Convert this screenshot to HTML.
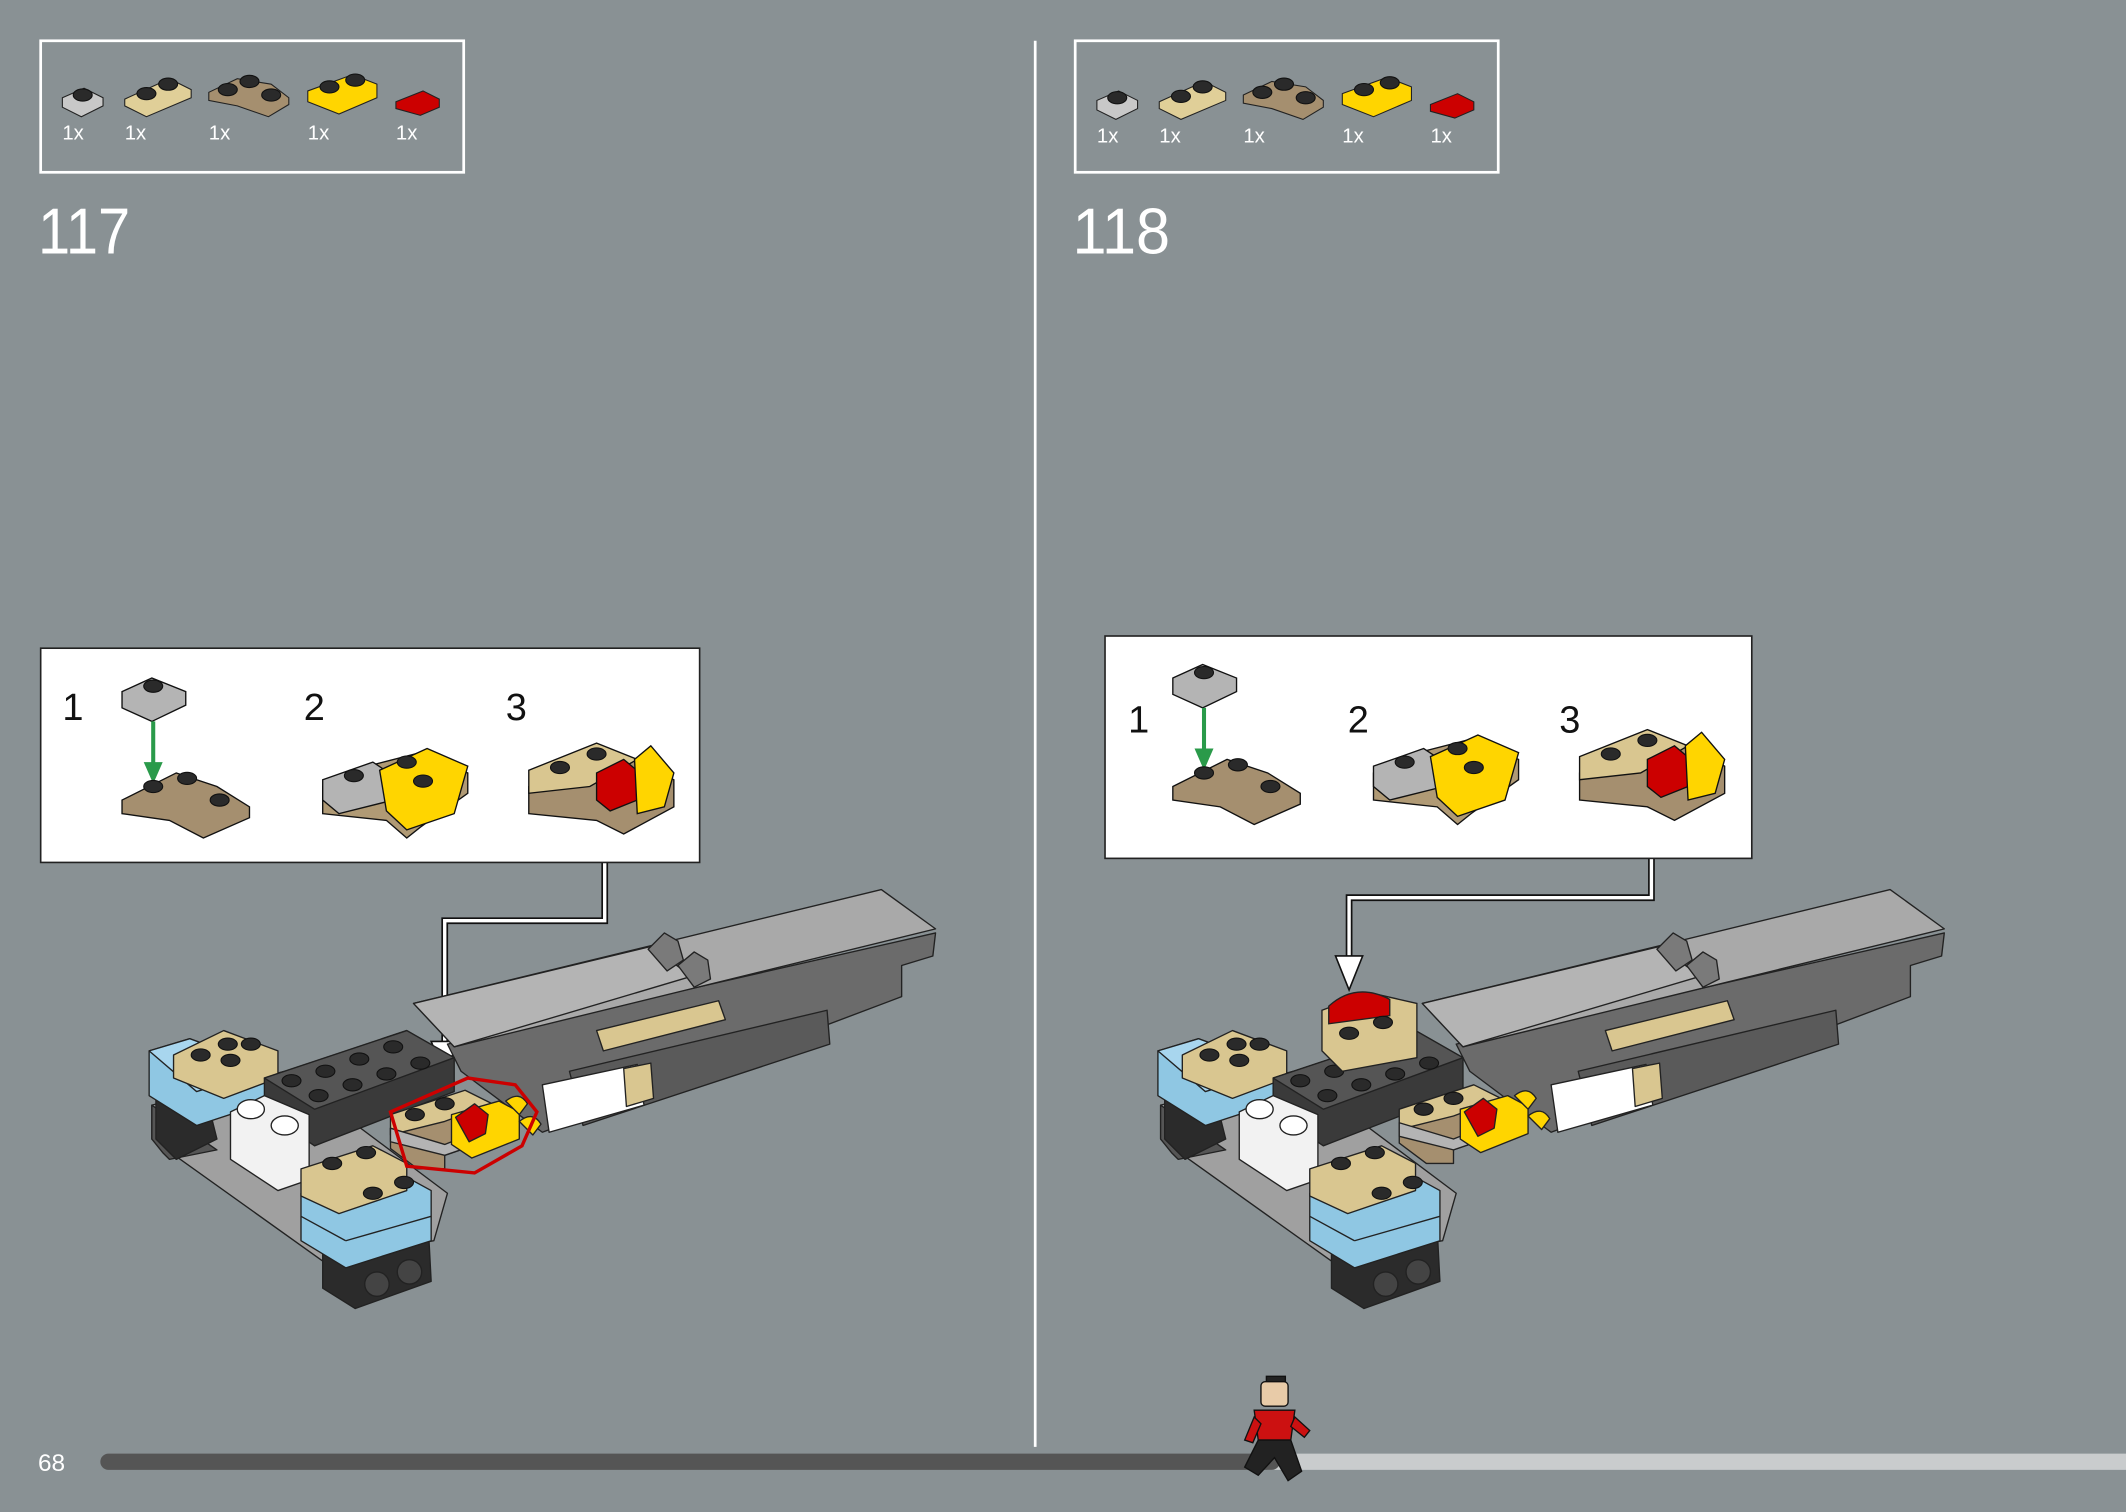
<!DOCTYPE html>
<html><head><meta charset="utf-8"><style>
html,body{margin:0;padding:0;background:#899194;}
svg{display:block}
text{font-family:"Liberation Sans",sans-serif;}
</style></head><body>
<svg width="2126" height="1512" viewBox="0 0 1568 1115" xmlns="http://www.w3.org/2000/svg">
<defs>
<g id="stud"><ellipse cx="0" cy="0" rx="7" ry="4.5" fill="#2a2a2a" stroke="#111" stroke-width="0.8"/></g>
<g id="model" stroke="#222" stroke-width="1" stroke-linejoin="round">
  <polygon points="330,770 690,688 688,705 665,712 665,735 400,835 340,790" fill="#6b6b6b"/>
  <polygon points="420,790 610,745 612,770 430,830" fill="#5a5a5a"/>
  <polygon points="400,800 470,785 475,815 405,835" fill="#ffffff"/>
  <polygon points="460,788 480,784 482,810 462,816" fill="#d9c690"/>
  <polygon points="305,740 650,656 690,685 335,772" fill="#a9a9a9"/>
  <polygon points="305,740 480,698 510,720 335,772" fill="#b4b4b4"/>
  <polygon points="440,760 530,738 535,752 445,775" fill="#d9c690"/>
  <polygon points="478,700 490,688 500,694 504,708 492,716" fill="#7a7a7a"/>
  <polygon points="500,712 512,702 522,708 524,722 512,728" fill="#7a7a7a"/>
  <polygon points="112,815 210,790 330,880 320,915 238,930 112,840" fill="#a0a0a0"/>
  <polygon points="112,815 112,840 120,850 125,855 160,848" fill="#555"/>
  <polygon points="115,810 150,800 160,840 130,855 115,840" fill="#2b2b2b"/>
  <polygon points="110,775 140,766 200,790 200,812 145,830 110,808" fill="#8fc7e3"/>
  <polygon points="110,775 140,766 200,788 145,805" fill="#a8d6ee"/>
  <polygon points="128,778 165,760 205,775 205,795 165,810 128,795" fill="#d9c690"/>
  <use href="#stud" x="148" y="778"/><use href="#stud" x="168" y="770"/><use href="#stud" x="185" y="770"/><use href="#stud" x="170" y="782"/>
  <polygon points="195,795 300,760 335,780 335,805 232,845 195,820" fill="#3a3a3a"/>
  <polygon points="195,795 300,760 335,780 232,818" fill="#555"/>
  <use href="#stud" x="215" y="797"/><use href="#stud" x="240" y="790"/><use href="#stud" x="265" y="781"/><use href="#stud" x="290" y="772"/>
  <use href="#stud" x="235" y="808"/><use href="#stud" x="260" y="800"/><use href="#stud" x="285" y="792"/><use href="#stud" x="310" y="784"/>
  <polygon points="170,820 195,808 228,822 228,870 205,878 170,855" fill="#f2f2f2"/>
  <ellipse cx="185" cy="818" rx="10" ry="7" fill="#fff"/><ellipse cx="210" cy="830" rx="10" ry="7" fill="#fff"/>
  <polygon points="238,910 315,888 318,945 262,965 238,950" fill="#2b2b2b"/>
  <circle cx="278" cy="947" r="9" fill="#444"/><circle cx="302" cy="938" r="9" fill="#444"/>
  <polygon points="222,880 285,860 318,878 318,915 255,935 222,915" fill="#8fc7e3"/>
  <line x1="222" y1="897" x2="255" y2="915" /><line x1="255" y1="915" x2="318" y2="897"/>
  <polygon points="222,862 275,845 300,858 300,878 250,895 222,882" fill="#d9c690"/>
  <use href="#stud" x="245" y="858"/><use href="#stud" x="270" y="850"/>
  <use href="#stud" x="275" y="880"/><use href="#stud" x="298" y="872"/>
</g>
<g id="sub1" stroke="#222" stroke-width="1" stroke-linejoin="round">
  <polygon points="0,40 55,22 75,32 75,48 40,60 40,70 20,70 0,55" fill="#a58f6f"/>
  <polygon points="0,30 55,12 75,22 40,35 0,45" fill="#d9c690"/>
  <polygon points="0,40 40,52 75,38 75,48 40,60 0,50" fill="#b4b4b4"/>
  <polygon points="45,30 80,20 95,28 95,48 60,62 45,52" fill="#ffd500"/>
  <path d="M48,32 L62,22 L72,30 L70,44 L58,50 Z" fill="#cc0000"/>
  <path d="M85,20 q10,-8 16,2 l-6,8 z M95,35 q10,-8 16,2 l-6,8 z" fill="#ffd500"/>
  <use href="#stud" x="18" y="30"/><use href="#stud" x="40" y="22"/>
</g>
</defs>

<rect width="1568" height="1115" fill="#899194"/>
<line x1="763.5" y1="30" x2="763.5" y2="1067" stroke="#fff" stroke-width="2"/>

<rect x="30" y="30" width="312" height="97" fill="none" stroke="#fff" stroke-width="2"/>
<rect x="793" y="30" width="312" height="97" fill="none" stroke="#fff" stroke-width="2"/>
<g id="parts" stroke="#222" stroke-width="0.8">
  <polygon points="46,72 62,65 76,72 76,78 60,86 46,79" fill="#c8c8c8"/><use href="#stud" x="61" y="70"/>
  <polygon points="92,73 125,58 141,66 141,72 108,86 92,78" fill="#e0cf98"/><use href="#stud" x="108" y="69"/><use href="#stud" x="124" y="62"/>
  <polygon points="154,68 175,58 200,62 213,72 213,77 198,86 175,78 154,74" fill="#a58f6f"/><use href="#stud" x="168" y="66"/><use href="#stud" x="184" y="60"/><use href="#stud" x="200" y="70"/>
  <polygon points="227,67 260,55 278,62 278,72 250,84 227,75" fill="#ffd500"/><use href="#stud" x="243" y="64"/><use href="#stud" x="262" y="59"/>
  <path d="M292,75 l20,-8 l12,6 l0,6 l-14,6 l-18,-5 z" fill="#cc0000"/>
</g>
<use href="#parts" x="763" y="2"/>
<g fill="#fff" font-size="15">
<text x="46" y="103">1x</text><text x="92" y="103">1x</text><text x="154" y="103">1x</text><text x="227" y="103">1x</text><text x="292" y="103">1x</text>
<text x="809" y="105">1x</text><text x="855" y="105">1x</text><text x="917" y="105">1x</text><text x="990" y="105">1x</text><text x="1055" y="105">1x</text>
</g>
<text x="28" y="187" font-size="48" fill="#fff" textLength="68" lengthAdjust="spacingAndGlyphs">117</text>
<text x="791" y="187" font-size="48" fill="#fff" textLength="72" lengthAdjust="spacingAndGlyphs">118</text>

<g fill="none" stroke-linejoin="miter">
<polyline points="446,636 446,679 328,679 328,772" stroke="#111" stroke-width="5"/>
<polyline points="446,636 446,679 328,679 328,772" stroke="#fff" stroke-width="2.5"/>
<polygon points="318,768 338,768 328,792" fill="#fff" stroke="#111" stroke-width="1.2"/>
<polyline points="1218,633 1218,662 995,662 995,710" stroke="#111" stroke-width="5"/>
<polyline points="1218,633 1218,662 995,662 995,710" stroke="#fff" stroke-width="2.5"/>
<polygon points="985,705 1005,705 995,730" fill="#fff" stroke="#111" stroke-width="1.2"/>
</g>

<use href="#model"/>
<use href="#sub1" x="288" y="792"/>
<path d="M288,820 L345,795 L380,800 L396,820 L385,845 L350,865 L300,860 Z" fill="none" stroke="#cc0000" stroke-width="2.5"/>
<use href="#model" x="744"/>
<use href="#sub1" x="1032" y="788"/>
<g stroke="#222" stroke-width="1">
<polygon points="975,745 1010,732 1045,740 1045,780 990,790 975,775" fill="#d9c690"/>
<path d="M980,742 q20,-18 45,-5 l0,12 l-45,6 z" fill="#cc0000"/>
<use href="#stud" x="995" y="762"/><use href="#stud" x="1020" y="754"/>
</g>

<rect x="30" y="478" width="486" height="158" fill="#fff" stroke="#222" stroke-width="1.2"/>
<rect x="815" y="469" width="477" height="164" fill="#fff" stroke="#222" stroke-width="1.2"/>
<g font-size="28" fill="#111">
<text x="46" y="531">1</text><text x="224" y="531">2</text><text x="373" y="531">3</text>
<text x="832" y="540">1</text><text x="994" y="540">2</text><text x="1150" y="540">3</text>
</g>
<g id="steps" stroke="#111" stroke-width="1">
  <polygon points="90,510 112,500 137,510 137,520 112,532 90,522" fill="#b4b4b4"/><use href="#stud" x="113" y="506"/>
  <line x1="113" y1="532" x2="113" y2="568" stroke="#2a9a4a" stroke-width="3"/>
  <polygon points="106,562 120,562 113,578" fill="#2a9a4a" stroke="none"/>
  <polygon points="90,590 130,570 160,580 184,595 184,603 150,618 125,605 90,600" fill="#a58f6f"/>
  <use href="#stud" x="113" y="580"/><use href="#stud" x="138" y="574"/><use href="#stud" x="162" y="590"/>
  <polygon points="238,580 275,564 310,555 345,570 345,585 310,610 300,618 285,605 238,600" fill="#b09a75"/>
  <polygon points="238,575 275,562 290,572 290,590 250,600 238,590" fill="#b4b4b4"/>
  <polygon points="280,568 315,552 345,565 335,600 300,612 285,598" fill="#ffd500"/>
  <use href="#stud" x="261" y="572"/><use href="#stud" x="300" y="562"/><use href="#stud" x="312" y="576"/>
  <polygon points="390,580 440,555 470,560 497,575 497,595 460,615 440,605 390,600" fill="#a58f6f"/>
  <polygon points="390,568 440,548 470,560 435,580 390,585" fill="#d9c690"/>
  <polygon points="440,570 460,560 472,570 470,590 450,598 440,590" fill="#cc0000"/>
  <polygon points="468,560 480,550 497,570 490,595 470,600" fill="#ffd500"/>
  <use href="#stud" x="413" y="566"/><use href="#stud" x="440" y="556"/>
</g>
<use href="#steps" x="775" y="-10"/>

<text x="28" y="1085" font-size="18" fill="#fff">68</text>
<rect x="930" y="1072" width="650" height="12" rx="6" fill="#c9cccd"/>
<rect x="74" y="1072" width="870" height="12" rx="6" fill="#555"/>
<g stroke="#111" stroke-width="1">
<rect x="934" y="1015" width="14" height="4" fill="#222"/>
<rect x="930" y="1019" width="20" height="18" rx="3" fill="#e8cba8"/>
<polygon points="925,1040 955,1040 952,1062 928,1062" fill="#cc1111"/>
<polygon points="925,1045 918,1062 924,1064 930,1050" fill="#cc1111"/>
<polygon points="955,1045 966,1055 962,1060 952,1052" fill="#cc1111"/>
<polygon points="928,1062 952,1062 960,1085 950,1092 940,1075 928,1088 918,1082" fill="#222"/>
</g>
</svg>
</body></html>
